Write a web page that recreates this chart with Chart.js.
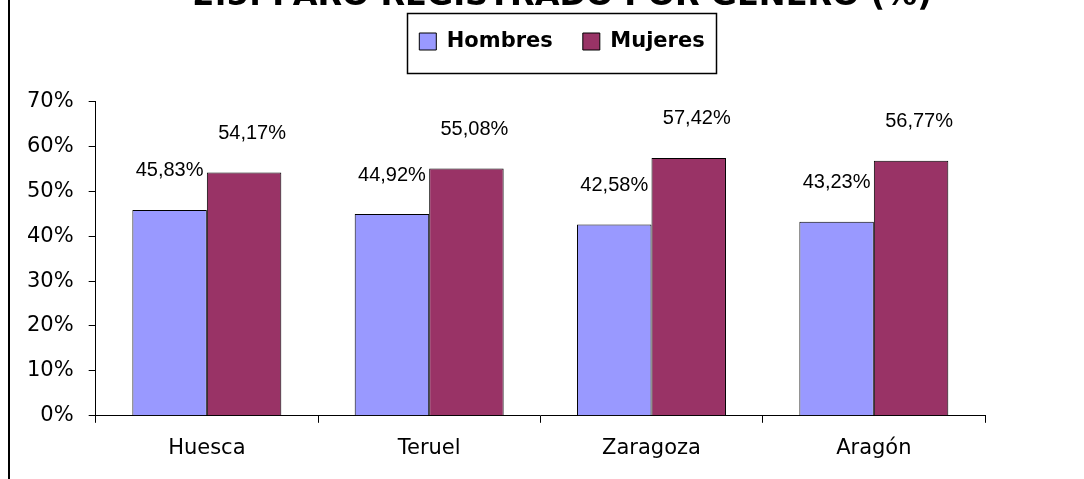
<!DOCTYPE html>
<html lang="es">
<head>
    <meta charset="UTF-8">
    <title>Paro registrado por género</title>
    <script src="https://cdn.jsdelivr.net/npm/chart.js"></script>
    <style>
        html, body { margin: 0; padding: 0; background: #fff; overflow: hidden; }
        /* el título queda cortado arriba, como en el original */
        .wrap { position: absolute; left: 0; top: -30px; width: 1084px; height: 509px; }
    </style>
</head>
<body>
<div class="wrap"><canvas id="chart"></canvas></div>
<script>
// Datos
const titulo = '2.5. PARO REGISTRADO POR GÉNERO (%)';
const provincias = ['Huesca', 'Teruel', 'Zaragoza', 'Aragón'];
const hombres = [45.83, 44.92, 42.58, 43.23];
const mujeres = [54.17, 55.08, 57.42, 56.77];
const ejeMin = 0;
const ejeMax = 70;
const ejePaso = 10;

const fuente = 'DejaVu Sans, Verdana, sans-serif';
const centroCabecera = 562;   // título y leyenda centrados aquí

// Marco de la leyenda, posición de título/leyenda y línea del borde izquierdo
const marcos = {
    id: 'marcos',
    beforeInit(chart) {
        const fit = chart.legend.fit;
        chart.legend.fit = function () {
            fit.call(this);
            this.height = 86;
        };
    },
    afterUpdate(chart) {
        const lg = chart.legend;
        const dx = centroCabecera - (lg.left + lg.right) / 2;
        const dy = 31 - lg.top;
        lg.left += dx; lg.right += dx;
        lg.top += dy; lg.bottom += dy;
        lg.legendHitBoxes.forEach(h => { h.left += dx; h.top += dy; });

        const tb = chart.titleBlock;
        const tx = centroCabecera - (tb.left + tb.right) / 2;
        tb.left += tx; tb.right += tx;
    },
    afterDraw(chart) {
        const ctx = chart.ctx;
        ctx.save();
        ctx.strokeStyle = '#000';
        ctx.lineWidth = 2;
        ctx.beginPath();
        ctx.moveTo(9, 0);
        ctx.lineTo(9, chart.height);
        ctx.stroke();

        const cajas = chart.legend.legendHitBoxes;
        if (cajas && cajas.length) {
            const izq = Math.min(...cajas.map(c => c.left)) - 12;
            const der = Math.max(...cajas.map(c => c.left + c.width)) + 12;
            const arr = cajas[0].top - 18;
            const aba = cajas[0].top + cajas[0].height + 21;
            ctx.lineWidth = 1.5;
            ctx.strokeRect(Math.round(izq) + 0.5, Math.round(arr) + 0.5, Math.round(der - izq), Math.round(aba - arr));
        }
        ctx.restore();
    }
};

// Etiquetas de valor encima de cada barra (las de Mujeres algo a la derecha)
const desvioEtiqueta = [0, 8];
const etiquetas = {
    id: 'etiquetas',
    afterDatasetsDraw(chart) {
        const ctx = chart.ctx;
        ctx.save();
        ctx.font = '20px "Liberation Sans", Arial, sans-serif';
        ctx.fillStyle = '#000';
        ctx.textAlign = 'center';
        ctx.textBaseline = 'middle';
        chart.data.datasets.forEach((ds, i) => {
            chart.getDatasetMeta(i).data.forEach((bar, j) => {
                const txt = ds.data[j].toFixed(2).replace('.', ',') + '%';
                ctx.fillText(txt, bar.x + desvioEtiqueta[i], bar.y - 39);
            });
        });
        ctx.restore();
    }
};

new Chart(document.getElementById('chart'), {
    type: 'bar',
    data: {
        labels: provincias,
        datasets: [{
            label: 'Hombres',
            data: hombres,
            backgroundColor: '#9999FF',
            borderColor: '#000',
            borderWidth: 1
        }, {
            label: 'Mujeres',
            data: mujeres,
            backgroundColor: '#993366',
            borderColor: '#000',
            borderWidth: 1
        }]
    },
    options: {
        responsive: true,
        maintainAspectRatio: false,
        animation: false,
        categoryPercentage: 0.67,
        barPercentage: 1.0,
        layout: { padding: { left: 12, right: 99, top: 0, bottom: 5 } },
        plugins: {
            title: {
                display: true,
                text: titulo,
                color: '#000',
                font: { family: fuente, size: 32, weight: 'bold' },
                padding: { top: 7, bottom: 0 }
            },
            legend: {
                position: 'top',
                labels: {
                    color: '#000',
                    boxWidth: 17,
                    boxHeight: 17,
                    padding: 30,
                    font: { family: fuente, size: 21, weight: 'bold' }
                }
            },
            tooltip: { enabled: false }
        },
        scales: {
            x: {
                grid: { drawOnChartArea: false, color: '#000', tickLength: 7 },
                border: { color: '#000', width: 1 },
                ticks: { color: '#000', padding: 13, font: { family: fuente, size: 21 } }
            },
            y: {
                min: ejeMin,
                max: ejeMax,
                grid: { drawOnChartArea: false, color: '#000', tickLength: 7 },
                border: { color: '#000', width: 1 },
                ticks: {
                    stepSize: ejePaso,
                    color: '#000',
                    padding: 15,
                    font: { family: fuente, size: 21 },
                    callback: v => v + '%'
                }
            }
        }
    },
    plugins: [marcos, etiquetas]
});
</script>
</body>
</html>
